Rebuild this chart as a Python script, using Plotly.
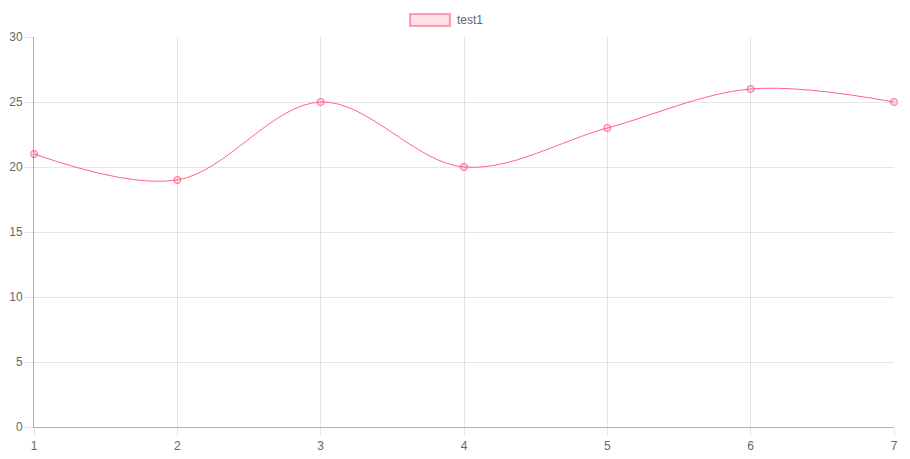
import plotly.graph_objects as go

# Data
x_vals = [1, 2, 3, 4, 5, 6, 7]
test1 = [21, 19, 25, 20, 23, 26, 25]
series_name = "test1"

line_color = "rgb(255,99,132)"
fill_color = "rgba(255,99,132,0.2)"
grid = "rgba(0,0,0,0.1)"

fig = go.Figure()

fig.add_trace(go.Scatter(
    x=x_vals, y=test1, mode="lines+markers", name=series_name,
    line=dict(color=line_color, width=1, shape="spline", smoothing=1),
    marker=dict(size=7, color=fill_color, line=dict(color=line_color, width=1)),
    cliponaxis=False, showlegend=False,
))

# Chart.js style legend: box swatch + label (plot area spans px 34..894, 37..427)
fig.add_shape(type="rect", xref="paper", yref="paper",
              x0=(410 - 34) / 860, x1=(450 - 34) / 860,
              y0=(427 - 26) / 390, y1=(427 - 14) / 390,
              fillcolor=fill_color, line=dict(color="rgba(255,99,132,0.6)", width=2))
fig.add_annotation(text=series_name, xref="paper", yref="paper",
                   x=(455 - 34) / 860, y=(427 - 20) / 390,
                   xanchor="left", yanchor="middle", showarrow=False,
                   font=dict(size=12, color="#666"))

axis_style = dict(showgrid=True, gridcolor=grid, gridwidth=1, zeroline=False,
                  showline=True, linecolor="rgba(0,0,0,0.3)", linewidth=1,
                  ticks="outside", ticklen=8, tickcolor=grid, automargin=False)

# page body has an 8px margin, so the figure is a bit smaller than the window
fig.update_layout(
    width=902, height=451,
    margin=dict(l=26, r=16, t=29, b=32),
    plot_bgcolor="white", paper_bgcolor="white",
    font=dict(family="Liberation Sans, Arial, sans-serif", size=12, color="#666"),
    showlegend=False,
    xaxis=dict(range=[1, 7], tickvals=x_vals, **axis_style),
    yaxis=dict(range=[0, 30], dtick=5, **axis_style),
)

fig.write_html("out.html")
